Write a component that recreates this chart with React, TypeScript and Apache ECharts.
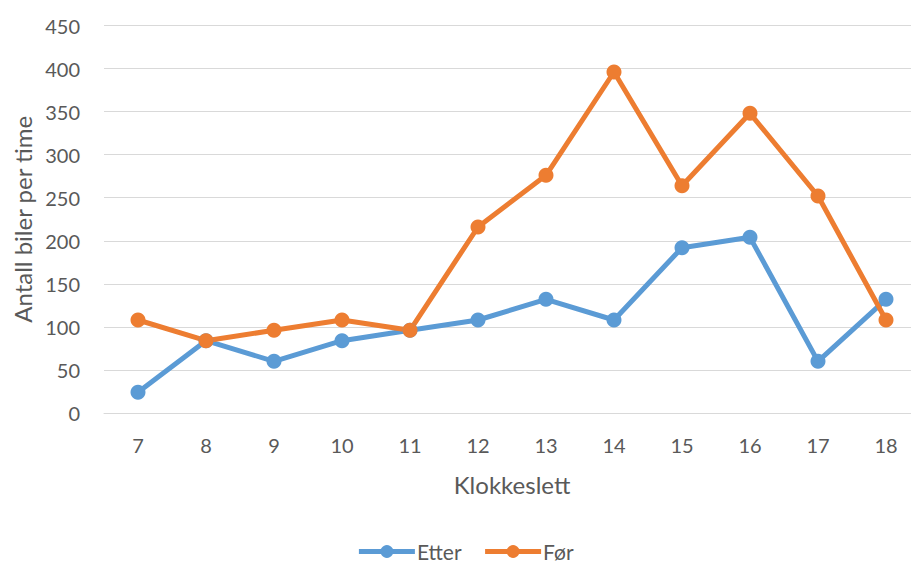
import React, { useEffect, useRef } from "react";
import * as echarts from "echarts";

const categories = ["7", "8", "9", "10", "11", "12", "13", "14", "15", "16", "17", "18"];
const etter = [24, 84, 60, 84, 96, 108, 132, 108, 192, 204, 60, 132];
const foer = [108, 84, 96, 108, 96, 216, 276, 396, 264, 348, 252, 108];
const yMin = 0;
const yMax = 450;
const yInterval = 50;

const FONT = "Lato, 'Open Sans', sans-serif";
const TEXT = "#595959";

export default function App() {
  const ref = useRef<HTMLDivElement>(null);
  useEffect(() => {
    if (!ref.current) return;
    const chart = echarts.init(ref.current, undefined, { renderer: "svg" });
    chart.setOption({
      animation: false,
      backgroundColor: "#ffffff",
      textStyle: { fontFamily: FONT, color: TEXT },
      grid: { left: 104, right: 10, top: 25.5, bottom: 150, containLabel: false },
      legend: {
        data: ["Etter", "Før"],
        left: "center",
        top: 541,
        padding: 0,
        itemWidth: 56,
        itemHeight: 16,
        itemGap: 21,
        lineStyle: { width: 5 },
        textStyle: { fontFamily: FONT, fontSize: 21, color: TEXT, padding: [0, 0, 0, -3] },
      },
      xAxis: {
        type: "category",
        data: categories,
        boundaryGap: true,
        name: "Klokkeslett",
        nameLocation: "middle",
        nameGap: 59,
        nameTextStyle: { fontFamily: FONT, fontSize: 24, color: TEXT },
        axisLine: { show: true, lineStyle: { color: "#D9D9D9", width: 1 } },
        axisTick: { show: false },
        axisLabel: { fontFamily: FONT, fontSize: 20, color: TEXT, margin: 22 },
      },
      yAxis: {
        type: "value",
        min: yMin,
        max: yMax,
        interval: yInterval,
        name: "Antall biler per time",
        nameLocation: "middle",
        nameGap: 70,
        nameTextStyle: { fontFamily: FONT, fontSize: 24, color: TEXT },
        axisLine: { show: false },
        axisTick: { show: false },
        axisLabel: { fontFamily: FONT, fontSize: 20, color: TEXT, margin: 24 },
        splitLine: { lineStyle: { color: "#D9D9D9", width: 1 } },
      },
      series: [
        {
          name: "Etter",
          type: "line",
          data: etter,
          symbol: "circle",
          symbolSize: 15,
          color: "#5B9BD5",
          lineStyle: { width: 5, color: "#5B9BD5" },
          itemStyle: { color: "#5B9BD5" },
        },
        {
          name: "Før",
          type: "line",
          data: foer,
          symbol: "circle",
          symbolSize: 15,
          color: "#ED7D31",
          lineStyle: { width: 5, color: "#ED7D31" },
          itemStyle: { color: "#ED7D31" },
        },
      ],
    });
    return () => chart.dispose();
  }, []);
  return (
    <div
      style={{
        position: "fixed",
        left: 0,
        top: 0,
        width: 911,
        height: 563,
        overflow: "hidden",
        background: "#fff",
      }}
    >
      <div ref={ref} style={{ width: 930, height: 563 }} />
    </div>
  );
}
